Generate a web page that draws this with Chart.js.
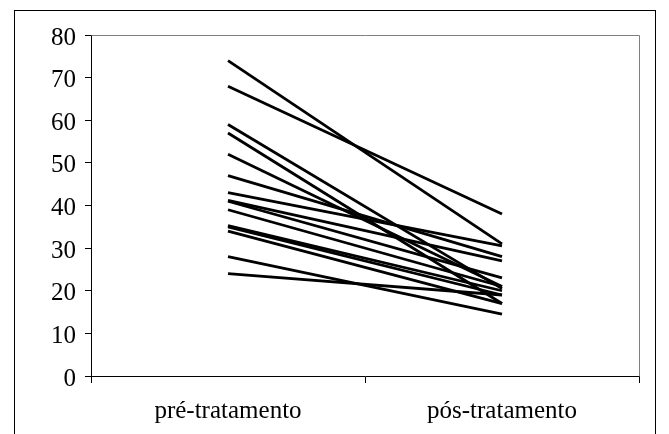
<!DOCTYPE html>
<html>
<head>
<meta charset="utf-8">
<script src="https://cdn.jsdelivr.net/npm/chart.js@4"></script>
<style>
  html, body { margin: 0; padding: 0; background: #ffffff; }
  #wrap { position: relative; width: 669px; height: 434px; }
</style>
</head>
<body>
<div id="wrap"><canvas id="c" width="669" height="434"></canvas></div>
<script>
const categories = ["pré-tratamento", "pós-tratamento"];
const preValues  = [74, 68, 59, 57, 52, 47, 43, 41.2, 41, 39, 35.3, 35, 34, 28, 24];
const postValues = [31, 38, 20.5, 17, 21, 28, 30.5, 27, 23, 21, 20, 19, 17, 14.5, 19];
const yTicks = [0, 10, 20, 30, 40, 50, 60, 70, 80];

const datasets = preValues.map((v, i) => ({
  label: "Paciente " + (i + 1),
  data: [v, postValues[i]],
  borderColor: "#000000",
  borderWidth: 2.8,
  pointRadius: 0,
  fill: false,
  tension: 0
}));

const framePlugin = {
  id: "frame",
  beforeDraw(chart) {
    const ctx = chart.ctx;
    ctx.save();
    ctx.fillStyle = "#ffffff";
    ctx.fillRect(0, 0, chart.width, chart.height);
    ctx.strokeStyle = "#000000";
    ctx.lineWidth = 1;
    ctx.strokeRect(14.5, 10.5, 641, 440);
    ctx.restore();
  },
  beforeDatasetsDraw(chart) {
    const a = chart.chartArea;
    const ctx = chart.ctx;
    ctx.save();
    ctx.strokeStyle = "#808080";
    ctx.lineWidth = 1;
    ctx.beginPath();
    ctx.moveTo(Math.round(a.left) + 0.5, Math.round(a.top) + 0.5);
    ctx.lineTo(Math.round(a.right) + 0.5, Math.round(a.top) + 0.5);
    ctx.lineTo(Math.round(a.right) + 0.5, Math.round(a.bottom) + 0.5);
    ctx.stroke();
    ctx.restore();
  }
};

const serif = "'Liberation Serif', 'Times New Roman', serif";

new Chart(document.getElementById("c"), {
  type: "line",
  data: { labels: categories, datasets },
  plugins: [framePlugin],
  options: {
    responsive: false,
    animation: false,
    layout: { padding: { left: 0, top: 35, right: 30, bottom: 0 } },
    plugins: { legend: { display: false }, tooltip: { enabled: false } },
    scales: {
      x: {
        type: "category",
        offset: true,
        afterFit: s => { s.height = 58; },
        grid: { display: true, offset: true, drawOnChartArea: false, drawTicks: true, tickLength: 7, color: "#000000", lineWidth: 1 },
        border: { display: true, color: "#000000", width: 1 },
        ticks: { color: "#000000", padding: 13, font: { family: serif, size: 25 } }
      },
      y: {
        min: 0, max: 80,
        afterFit: s => { s.width = 91; },
        afterBuildTicks: s => { s.ticks = yTicks.map(v => ({ value: v })); },
        grid: { display: true, drawOnChartArea: false, drawTicks: true, tickLength: 6, color: "#000000", lineWidth: 1 },
        border: { display: true, color: "#000000", width: 1 },
        ticks: { color: "#000000", padding: 9, labelOffset: 3, font: { family: serif, size: 25 } }
      }
    }
  }
});
</script>
</body>
</html>
